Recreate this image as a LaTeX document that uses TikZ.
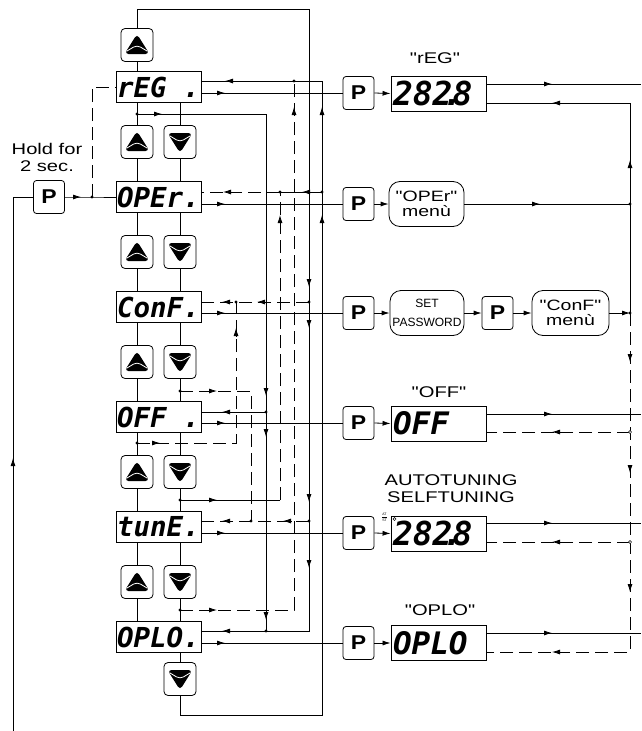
\documentclass[tikz,border=0pt]{standalone}
\usepackage{fontspec}
\usetikzlibrary{arrows.meta}
\newfontfamily\labfont{Liberation Sans}[FakeStretch=1.3]
\newfontfamily\plainfont{Liberation Sans}
\newfontfamily\pfont{Liberation Sans}[FakeStretch=1.15]
\newfontfamily\segfont{DejaVu Sans Mono}
\newcommand\myarr[3]{\draw[ln,-{Latex[length=8pt,width=5pt]}] (#1,#2) ++(#3+180:8pt) -- ++(#3:8pt);}
\newcommand\jdot[2]{\fill (#1,#2) circle (1.6pt);}
\newcommand\jopen[2]{\draw[line width=0.5pt,fill=white] (#1,#2) circle (1.6pt);}
\newcommand\segdot{\kern-0.3em.\kern-0.3em}
\begin{document}
\begin{tikzpicture}[x=1pt,y=-1pt,
 ln/.style={line width=0.8pt},
 dsh/.style={ln,dash pattern=on 13pt off 6pt},
 disp/.style={draw,line width=0.9pt,minimum height=31pt,text width=83pt,inner sep=1pt,align=left,font=\segfont\bfseries\itshape\fontsize{27.5}{27.5}\selectfont},
 btn/.style={draw,line width=0.8pt,rounded corners=4pt,minimum width=32pt,minimum height=33pt,inner sep=0pt},
 upbtn/.style={btn,path picture={
   \fill ([shift={(-12.5pt,-9pt)}]path picture bounding box.center) -- ([shift={(12.5pt,-9pt)}]path picture bounding box.center) -- ([shift={(0pt,11pt)}]path picture bounding box.center) -- cycle;
   \draw[white,line width=0.8pt] ([shift={(-10pt,-6pt)}]path picture bounding box.center) -- (path picture bounding box.center) -- ([shift={(10pt,-6pt)}]path picture bounding box.center);}},
 dnbtn/.style={btn,path picture={
   \fill ([shift={(-12.5pt,9pt)}]path picture bounding box.center) -- ([shift={(12.5pt,9pt)}]path picture bounding box.center) -- ([shift={(0pt,-11pt)}]path picture bounding box.center) -- cycle;
   \draw[white,line width=0.8pt] ([shift={(-10pt,6pt)}]path picture bounding box.center) -- (path picture bounding box.center) -- ([shift={(10pt,6pt)}]path picture bounding box.center);}},
 pbtn/.style={draw,line width=0.8pt,rounded corners=3pt,minimum width=31pt,minimum height=33pt,inner sep=0pt,font=\pfont\bfseries\fontsize{20}{20}\selectfont},
 rdisp/.style={draw,line width=0.9pt,minimum height=35pt,text width=91pt,inner sep=2pt,align=left,font=\segfont\bfseries\itshape\fontsize{31}{31}\selectfont},
 menu/.style={draw,line width=0.8pt,rounded corners=11pt,minimum width=75pt,minimum height=45pt,inner sep=1pt,align=center,font=\labfont\fontsize{15}{15}\selectfont},
 lab/.style={align=center,inner sep=0pt,font=\labfont\fontsize{15.5}{17}\selectfont},
 tip/.style={ln,-{Latex[length=8pt,width=5pt]}}
]
\useasboundingbox (0,0) rectangle (641,731);

% ---------- left column displays ----------
\node[disp] (reg)  at (158.5,87)  {rEG\hphantom{0}.};
\node[disp] (oper) at (158.5,197) {OPEr.};
\node[disp] (conf) at (158.5,307) {ConF.};
\node[disp] (off)  at (158.5,417) {OFF\hphantom{0}.};
\node[disp] (tune) at (158.5,527) {tunE.};
\node[disp] (oplo) at (158.5,637) {OPLO.};

% ---------- up / down buttons ----------
\node[upbtn] (u0) at (137,45) {};
\node[upbtn] (u1) at (137,142) {}; \node[dnbtn] (d1) at (180,142) {};
\node[upbtn] (u2) at (137,252) {}; \node[dnbtn] (d2) at (180,252) {};
\node[upbtn] (u3) at (137,362) {}; \node[dnbtn] (d3) at (180,362) {};
\node[upbtn] (u4) at (137,472) {}; \node[dnbtn] (d4) at (180,472) {};
\node[upbtn] (u5) at (137,582) {}; \node[dnbtn] (d5) at (180,582) {};
\node[dnbtn] (d6) at (180,679) {};

\draw[ln] (u0.south) -- (u0.south |- reg.north);
\draw[ln] (u1.north) -- (u1.north |- reg.south);  \draw[ln] (u1.south) -- (u1.south |- oper.north);
\draw[ln] (d1.north) -- (d1.north |- reg.south);  \draw[ln] (d1.south) -- (d1.south |- oper.north);
\draw[ln] (u2.north) -- (u2.north |- oper.south); \draw[ln] (u2.south) -- (u2.south |- conf.north);
\draw[ln] (d2.north) -- (d2.north |- oper.south); \draw[ln] (d2.south) -- (d2.south |- conf.north);
\draw[ln] (u3.north) -- (u3.north |- conf.south); \draw[ln] (u3.south) -- (u3.south |- off.north);
\draw[ln] (d3.north) -- (d3.north |- conf.south); \draw[ln] (d3.south) -- (d3.south |- off.north);
\draw[ln] (u4.north) -- (u4.north |- off.south);  \draw[ln] (u4.south) -- (u4.south |- tune.north);
\draw[ln] (d4.north) -- (d4.north |- off.south);  \draw[ln] (d4.south) -- (d4.south |- tune.north);
\draw[ln] (u5.north) -- (u5.north |- tune.south); \draw[ln] (u5.south) -- (u5.south |- oplo.north);
\draw[ln] (d5.north) -- (d5.north |- tune.south); \draw[ln] (d5.south) -- (d5.south |- oplo.north);
\draw[ln] (d6.north) -- (d6.north |- oplo.south);

% ---------- hold P ----------
\node[lab] (hold) at (47,157) {Hold for\\2 sec.};
\node[pbtn] (p0) at (49,197) {P};
\coordinate (j0) at (92,197);
\draw[ln] (p0.east) -- (j0) -- (oper.west);
\myarr{81}{197}{0}
\jdot{92}{197}
\draw[dsh] (j0) -- (92,87) -- (reg.west);
\draw[ln] (13,731) -- (13,197) -- (p0.west);
\myarr{13}{458}{90}

% ---------- wrap-around lines ----------
\draw[ln] (u0.north) -- (137,9) -- (309,9) -- (309,631) -- (oplo.east |- 0,631);
\draw[ln] (d6.south) -- (180,715) -- (322,715) -- (322,81) -- (reg.east |- 0,81);
\myarr{309}{287}{-90}\myarr{309}{328}{-90}\myarr{309}{502}{-90}\myarr{309}{568}{-90}
\myarr{322}{107}{90}\myarr{322}{215}{90}
\myarr{225}{81}{180}\myarr{222}{631}{180}

% solid branch below rEG
\draw[ln] (137,114) -- (266,114) -- (266,631);
\jdot{137}{114}
\myarr{162}{114}{0}
\myarr{266}{396}{-90}\myarr{266}{437}{-90}\myarr{266}{620}{-90}
\draw[ln] (266,412) -- (off.east |- 0,412);
\myarr{222}{412}{180}
\jdot{266}{412}\jdot{266}{631}

% dashed branch above OFF
\draw[dsh] (180,391) -- (251,391) -- (251,521);
\jdot{180}{391}\myarr{217}{391}{0}
% dashed branch below OFF
\draw[dsh] (137,443) -- (236,443) -- (236,302);
\jdot{137}{443}\myarr{160}{443}{0}\myarr{236}{328}{90}
% branch above tunE
\draw[ln] (180,500) -- (280,500);
\draw[dsh] (280,500) -- (280,192);
\jdot{180}{500}\myarr{217}{500}{0}\myarr{280}{215}{90}
% branch above OPLO
\draw[dsh] (180,610) -- (294,610) -- (294,81);
\jdot{180}{610}\myarr{217}{610}{0}\myarr{294}{107}{90}
\jdot{294}{81}

% upper input lines
\draw[ln] (322,192) -- (280,192);
\draw[dsh] (280,192) -- (oper.east |- 0,192);
\myarr{302}{192}{180}\myarr{223}{192}{180}
\jdot{322}{192}\jdot{280}{192}
\draw[dsh] (309,302) -- (conf.east |- 0,302);
\myarr{257}{302}{180}\myarr{222}{302}{180}
\jdot{309}{302}\jdot{236}{302}
\draw[dsh] (309,521) -- (tune.east |- 0,521);
\myarr{283}{521}{180}\myarr{222}{521}{180}
\jdot{309}{521}\jdot{251}{521}

% ---------- right part ----------
\node[pbtn] (pr0) at (358.5,93)  {P};
\node[pbtn] (pr1) at (358.5,204) {P};
\node[pbtn] (pr2) at (358.5,313) {P};
\node[pbtn] (pr3) at (358.5,423) {P};
\node[pbtn] (pr4) at (358.5,533) {P};
\node[pbtn] (pr5) at (358.5,643) {P};

\draw[ln] (reg.east |- pr0) -- (pr0.west);  \myarr{225}{93}{0}
\draw[ln] (oper.east |- pr1) -- (pr1.west); \myarr{225}{204}{0}
\draw[ln] (conf.east |- pr2) -- (pr2.west); \myarr{225}{313}{0}
\draw[ln] (off.east |- pr3) -- (pr3.west);  \myarr{225}{423}{0}
\draw[ln] (tune.east |- pr4) -- (pr4.west); \myarr{225}{533}{0}
\draw[ln] (oplo.east |- pr5) -- (pr5.west); \myarr{225}{643}{0}

\node[lab] (lreg) at (435,58) {"rEG"};
\node[rdisp,font=\segfont\bfseries\itshape\fontsize{33}{33}\selectfont] (dreg) at (438.5,93.5) {282\segdot8};
\node[menu] (moper) at (426.5,204) {"OPEr"\\menù};
\node[menu,minimum width=74pt,font=\plainfont\fontsize{12}{19}\selectfont] (mpass) at (427,313) {SET\\PASSWORD};
\node[pbtn] (pc) at (497.5,313) {P};
\node[menu,minimum width=77pt] (mconf) at (570.5,313) {"ConF"\\menù};
\node[lab] (loff) at (439,392) {"OFF"};
\node[rdisp] (doff) at (438.5,423.5) {OFF};
\node[lab] (ltune) at (451,489) {AUTOTUNING\\SELFTUNING};
\node[rdisp,font=\segfont\bfseries\itshape\fontsize{33}{33}\selectfont] (dtune) at (438.5,533.5) {282\segdot8};
\node[lab] (loplo) at (440,610) {"OPLO"};
\node[rdisp] (doplo) at (438.5,643) {OPLO};
\node[inner sep=0pt,align=center,font=\plainfont\fontsize{3.5}{4}\selectfont] (atst) at (384.5,517.5) {\underline{AT}\\ST};
\draw[line width=0.5pt] (394.5,519) circle (1.6pt);

\draw[tip] (pr0.east) -- (dreg.west);
\draw[tip] (pr1.east) -- (moper.west);
\draw[tip] (pr2.east) -- (mpass.west);
\draw[tip] (mpass.east) -- (pc.west);
\draw[tip] (pc.east) -- (mconf.west);
\draw[tip] (pr3.east) -- (doff.west);
\draw[tip] (pr4.east) -- (dtune.west);
\draw[tip] (pr5.east) -- (doplo.west);

\draw[ln] (dreg.east |- 0,84) -- (641,84); \myarr{552}{84}{0}
\draw[ln] (630,313) -- (630,103) -- (dreg.east |- 0,103);
\myarr{552}{103}{180}\myarr{630}{160}{90}
\draw[ln] (moper.east) -- (630,204); \myarr{540}{204}{0}\jdot{630}{204}
\draw[tip] (mconf.east) -- (630,313); \jdot{630}{313}
\draw[dsh] (630,313) -- (630,652) -- (doplo.east |- 0,652);
\myarr{630}{362}{-90}\myarr{630}{473}{-90}\myarr{630}{592}{-90}\myarr{552}{652}{180}
\draw[ln] (doff.east |- 0,414) -- (641,414); \myarr{552}{414}{0}
\draw[dsh] (630,432) -- (doff.east |- 0,432); \myarr{552}{432}{180}\jopen{630}{432}
\draw[ln] (dtune.east |- 0,523) -- (641,523); \myarr{552}{523}{0}
\draw[dsh] (630,542) -- (dtune.east |- 0,542); \myarr{552}{542}{180}\jopen{630}{542}
\draw[ln] (doplo.east |- 0,633) -- (641,633); \myarr{552}{633}{0}
\end{tikzpicture}
\end{document}
